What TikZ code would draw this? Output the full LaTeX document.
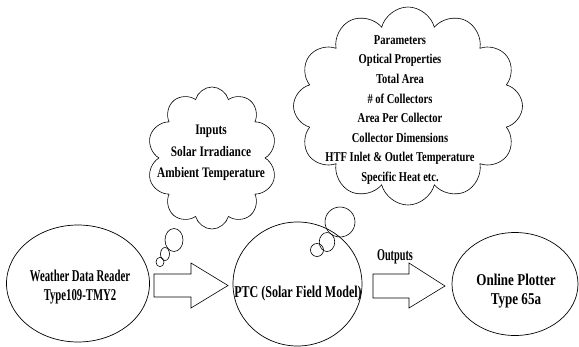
\documentclass[tikz,border=0pt]{standalone}
\usepackage{fontspec}
\setmainfont{Liberation Serif}
\newfontfamily\wfont{Liberation Serif}[FakeStretch=0.65]
\newfontfamily\pfont{Liberation Serif}[FakeStretch=0.73]
\newfontfamily\ofont{Liberation Serif}[FakeStretch=0.79]
\newfontfamily\cfont{Liberation Serif}[FakeStretch=0.78]
\newfontfamily\outfont{Liberation Serif}[FakeStretch=0.62]
\usetikzlibrary{shapes.geometric,shapes.symbols,calc}
\begin{document}
\begin{tikzpicture}[x=1pt,y=-1pt,
  line width=0.7pt,
  ell/.style={draw, ellipse, inner sep=0pt},
  bub/.style={draw, ellipse, inner sep=0pt, line width=0.6pt},
  cld/.style={draw, cloud, inner sep=0pt, line width=0.6pt},
  txt/.style={align=center, inner sep=0pt},
  blk/.style={draw, line width=0.6pt, line join=miter}]
\useasboundingbox (0,0) rectangle (579,346);

% clouds
\node[cld, cloud puffs=10, aspect=0.9, minimum width=130, minimum height=142] (c1) at (212,158) {};
\node[txt, font=\cfont\bfseries\fontsize{14.5pt}{21.5pt}\selectfont] (c1t) at (211,153)
  {Inputs\\Solar Irradiance\\Ambient Temperature};

\node[cld, cloud puffs=12, aspect=1.17, minimum width=229, minimum height=198] (c2) at (408,106) {};
\node[txt, font=\cfont\bfseries\fontsize{13.5pt}{19.6pt}\selectfont] (c2t) at (400,110)
  {Parameters\\Optical Properties\\Total Area\\\# of Collectors\\Area Per Collector\\Collector Dimensions\\HTF Inlet \& Outlet Temperature\\Specific Heat etc.};

% thought bubbles
\node[bub, minimum width=18, minimum height=23] (b11) at (174,240) {};
\node[bub, minimum width=9, minimum height=13] (b12) at (165,254) {};
\node[bub, minimum width=8, minimum height=9.5] (b13) at (160,262) {};

\node[bub, minimum width=30, minimum height=30] (b21) at (340,222) {};
\node[bub, minimum width=15.5, minimum height=19] (b22) at (327,242) {};
\node[bub, minimum width=13, minimum height=13] (b23) at (317,250) {};

% ellipses
\node[ell, minimum width=143, minimum height=117] (wdr) at (78,283.5) {};
\node[txt, font=\wfont\bfseries\fontsize{16.5pt}{19pt}\selectfont] (wdrt) at (80,287)
  {Weather Data Reader\\Type109-TMY2};

\node[ell, minimum width=129, minimum height=124] (ptc) at (297.5,284) {};
\node[txt, font=\pfont\bfseries\fontsize{16.5pt}{19pt}\selectfont] (ptct) at (298,294)
  {PTC (Solar Field Model)};

\node[ell, minimum width=126, minimum height=103] (olp) at (515,284) {};
\node[txt, font=\ofont\bfseries\fontsize{16.5pt}{19pt}\selectfont] (olpt) at (516,291)
  {Online Plotter\\Type 65a};

% block arrows
\coordinate (a1s) at (154,285.5);
\coordinate (a1t) at (228,285.5);
\draw[blk] ($(a1s)+(0,-11.5)$) -- ++(37,0) -- ++(0,-11) -- (a1t) -- ($(a1s)+(37,22.5)$) -- ++(0,-11) -- ++(-37,0) -- cycle;

\coordinate (a2s) at (373,286);
\coordinate (a2t) at (445,286);
\draw[blk] ($(a2s)+(0,-12)$) -- ++(36,0) -- ++(0,-11) -- (a2t) -- ($(a2s)+(36,22)$) -- ++(0,-10) -- ++(-36,0) -- cycle;

\node[txt, font=\outfont\bfseries\fontsize{16.5pt}{18pt}\selectfont] (outl) at (395,257) {Outputs};
\end{tikzpicture}
\end{document}
